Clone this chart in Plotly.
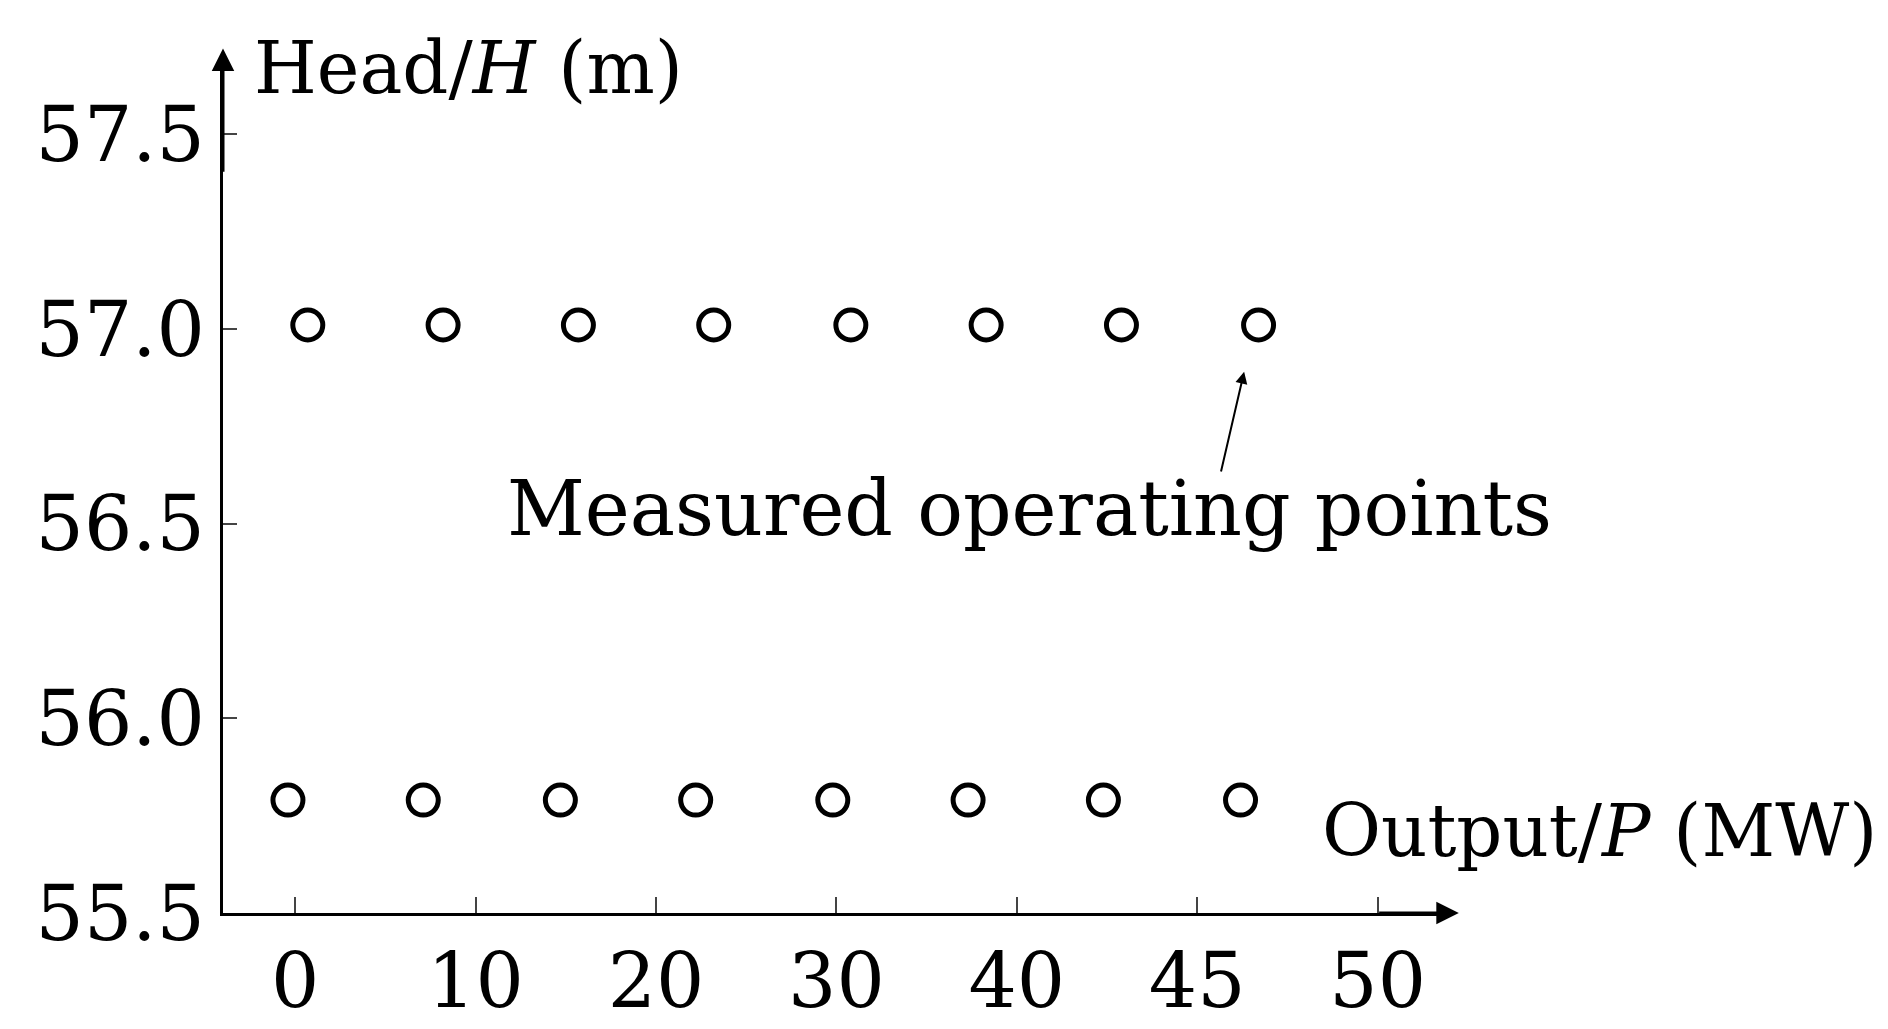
import plotly.graph_objects as go

x_ticks = [0, 1, 2, 3, 4, 5, 6]
x_ticklabels = ["0", "10", "20", "30", "40", "45", "50"]
y_ticks = [55.5, 56.0, 56.5, 57.0, 57.5]
upper_x = [0.07, 0.82, 1.57, 2.32, 3.08, 3.83, 4.58, 5.34]
upper_y = [57.01] * 8
lower_x = [-0.04, 0.71, 1.47, 2.22, 2.98, 3.73, 4.48, 5.24]
lower_y = [55.79] * 8

font = "DejaVu Serif"
mk = dict(symbol="circle-open", size=30, color="black", line=dict(width=5, color="black"))
fig = go.Figure()
fig.add_trace(go.Scatter(x=upper_x, y=upper_y, mode="markers", marker=mk, showlegend=False, cliponaxis=False))
fig.add_trace(go.Scatter(x=lower_x, y=lower_y, mode="markers", marker=mk, showlegend=False, cliponaxis=False))

fig.update_layout(
    width=1888, height=1029, plot_bgcolor="white", paper_bgcolor="white",
    margin=dict(l=215, r=448, t=60, b=106),
    font=dict(family=font, color="black", size=76),
    xaxis=dict(range=[-0.4, 6.39], tickvals=x_ticks, ticktext=x_ticklabels, showgrid=False,
               zeroline=False, showline=True, linecolor="black", linewidth=3,
               ticks="inside", ticklen=16, tickwidth=2, tickfont=dict(size=76)),
    yaxis=dict(range=[55.5, 57.67], tickvals=y_ticks, tickformat=".1f", showgrid=False,
               zeroline=False, showline=True, linecolor="black", linewidth=3,
               ticks="inside", ticklen=14, tickwidth=2, tickfont=dict(size=76)),
)
# axis arrows
fig.add_annotation(x=6.45, y=55.5, ax=6.0, ay=55.5, xref="x", yref="y", axref="x", ayref="y",
                   text="", showarrow=True, arrowhead=2, arrowsize=1.5, arrowwidth=3, arrowcolor="black")
fig.add_annotation(x=-0.4, y=57.72, ax=-0.4, ay=57.4, xref="x", yref="y", axref="x", ayref="y",
                   text="", showarrow=True, arrowhead=2, arrowsize=1.5, arrowwidth=3, arrowcolor="black")
fig.add_annotation(x=-0.24, y=1.0, xref="x", yref="paper", text="Head/<i>H</i> (m)", showarrow=False,
                   xanchor="left", yanchor="middle", font=dict(size=72))
fig.add_annotation(x=5.68, y=55.71, xref="x", yref="y", text="Output/<i>P</i> (MW)", showarrow=False,
                   xanchor="left", yanchor="middle", font=dict(size=72))
fig.add_annotation(x=4.07, y=56.54, xref="x", yref="y", text="Measured operating points", showarrow=False,
                   xanchor="center", yanchor="middle", font=dict(size=76))
fig.add_annotation(x=5.26, y=56.89, ax=5.13, ay=56.63, xref="x", yref="y", axref="x", ayref="y",
                   text="", showarrow=True, arrowhead=2, arrowsize=1.2, arrowwidth=2, arrowcolor="black")
fig.write_html("out.html")
